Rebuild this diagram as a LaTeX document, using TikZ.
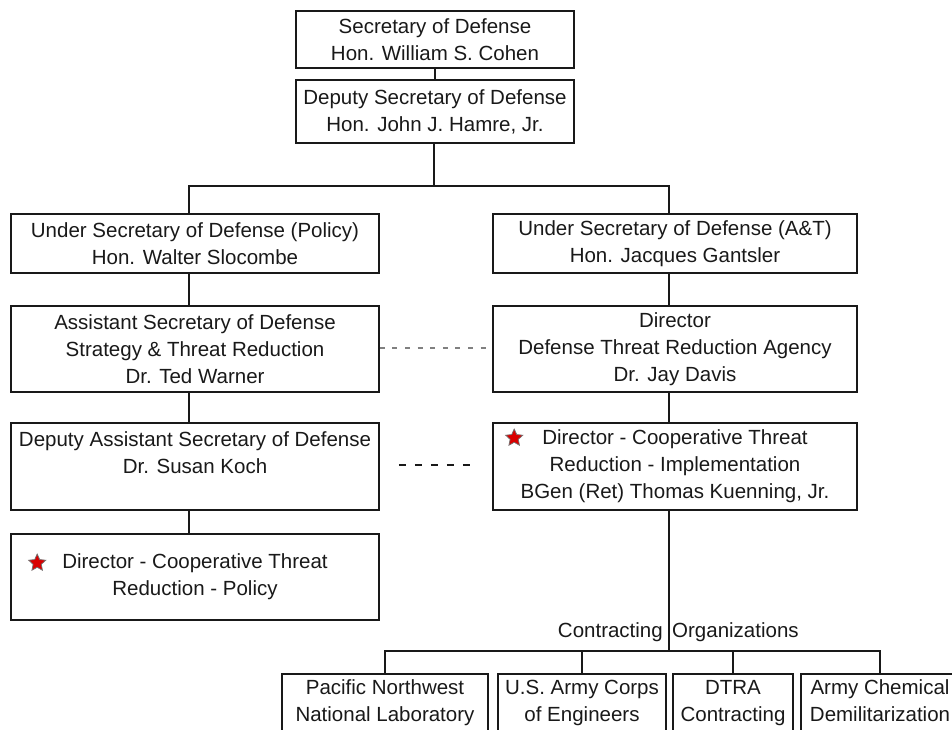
\documentclass[tikz,border=0pt]{standalone}
\usepackage{fontspec}
\setmainfont{Liberation Sans}
\usetikzlibrary{shapes,arrows,positioning,calc}

\tikzset{
	orgbox/.style={draw=black!90, line width=1.6pt, align=center, inner sep=0pt, text=black!90, font=\fontsize{20.5}{27}\selectfont},
	orgline/.style={draw=black!90, line width=1.6pt},
	lbl/.style={inner sep=0pt, text=black!90, font=\fontsize{20.5}{27}\selectfont},
	redstar/.style={star, star points=5, star point ratio=2.1, fill=red!85!black, draw=black!55, line width=0.7pt, minimum size=18pt, inner sep=0pt},
}

\begin{document}
\begin{tikzpicture}[x=1pt,y=-1pt]
	\useasboundingbox (0,0) rectangle (952,730);
	\clip (0,0) rectangle (952,730);

	% Spines of the chart
	\coordinate (top) at (434,186);
	\coordinate (lspine) at (189,186);
	\coordinate (rspine) at (669,186);
	\coordinate (cbus) at (669,651);
	\coordinate (clab) at (669,632);

	% Secretary and deputy
	\node[orgbox, minimum width=278pt, minimum height=57pt] (secdef) at (435,39.5) {Secretary of Defense\\Hon. William S. Cohen};
	\node[orgbox, minimum width=278pt, minimum height=63pt] (depsec) at (435,111.5) {Deputy Secretary of Defense\\Hon. John J. Hamre, Jr.};

	% Policy column
	\node[orgbox, minimum width=368pt, minimum height=59pt] (usdp) at (195,243.5) {Under Secretary of Defense (Policy)\\Hon. Walter Slocombe};
	\node[orgbox, minimum width=368pt, minimum height=86pt] (asd) at (195,349) {Assistant Secretary of Defense\\Strategy \& Threat Reduction\\Dr. Ted Warner};
	\node[orgbox, minimum width=368pt, minimum height=87pt] (dasd) at (195,466.5) {Deputy Assistant Secretary of Defense\\Dr. Susan Koch\\~};
	\node[orgbox, minimum width=368pt, minimum height=86pt] (ctrp) at (195,577) {Director - Cooperative Threat\\Reduction - Policy};

	% Acquisition column
	\node[orgbox, minimum width=364pt, minimum height=59pt] (usdat) at (675,243.5) {Under Secretary of Defense (A\&T)\\Hon. Jacques Gantsler};
	\node[orgbox, minimum width=364pt, minimum height=86pt] (dtra) at (675,349) {Director\\Defense Threat Reduction Agency\\Dr. Jay Davis};
	\node[orgbox, minimum width=364pt, minimum height=87pt] (ctri) at (675,466.5) {Director - Cooperative Threat\\Reduction - Implementation\\BGen (Ret) Thomas Kuenning, Jr.};

	% Stars
	\node[redstar] (starp) at ($(ctrp.west)+(27,-14)$) {};
	\node[redstar] (stari) at ($(ctri.west)+(22,-28.5)$) {};

	% Contracting organizations
	\node[orgbox, minimum width=206pt, minimum height=80pt] (pnnl) at (385,714) {Pacific Northwest\\National Laboratory\\~};
	\node[orgbox, minimum width=168pt, minimum height=80pt] (corps) at (582,714) {U.S. Army Corps\\of Engineers\\~};
	\node[orgbox, minimum width=120pt, minimum height=80pt] (dtrac) at (733,714) {DTRA\\Contracting\\~};
	\node[orgbox, minimum width=158pt, minimum height=80pt] (chem) at (880,714) {Army Chemical\\Demilitarization\\~};
	\node[lbl, left=6pt of clab] (conl) {Contracting};
	\node[lbl, right=3pt of clab] (conr) {Organizations};

	% Connectors
	\draw[orgline] (secdef.south) -- (depsec.north);
	\draw[orgline] (depsec.south -| top) -- (top);
	\draw[orgline] (usdp.north -| lspine) -- (lspine) -- (rspine) -- (usdat.north -| rspine);
	\draw[orgline] (usdp.south -| lspine) -- (asd.north -| lspine);
	\draw[orgline] (asd.south -| lspine) -- (dasd.north -| lspine);
	\draw[orgline] (dasd.south -| lspine) -- (ctrp.north -| lspine);
	\draw[orgline] (usdat.south -| rspine) -- (dtra.north -| rspine);
	\draw[orgline] (dtra.south -| rspine) -- (ctri.north -| rspine);
	\draw[orgline] (ctri.south -| cbus) -- (cbus);
	\draw[orgline] (pnnl.north) -- (pnnl.north |- cbus) -- (chem.north |- cbus) -- (chem.north);
	\draw[orgline] (corps.north) -- (corps.north |- cbus);
	\draw[orgline] (dtrac.north) -- (dtrac.north |- cbus);

	% Coordination links
	\draw[gray, line width=1.8pt, dash pattern=on 5pt off 7.6pt] ($(asd.east)+(0,-1)$) -- ($(dtra.west)+(0,-1)$);
	\draw[black!90, line width=2.4pt, dash pattern=on 7pt off 9pt] ($(dasd.east)+(19,-1.5)$) -- ($(ctri.west)+(-22,-1.5)$);
\end{tikzpicture}
\end{document}
